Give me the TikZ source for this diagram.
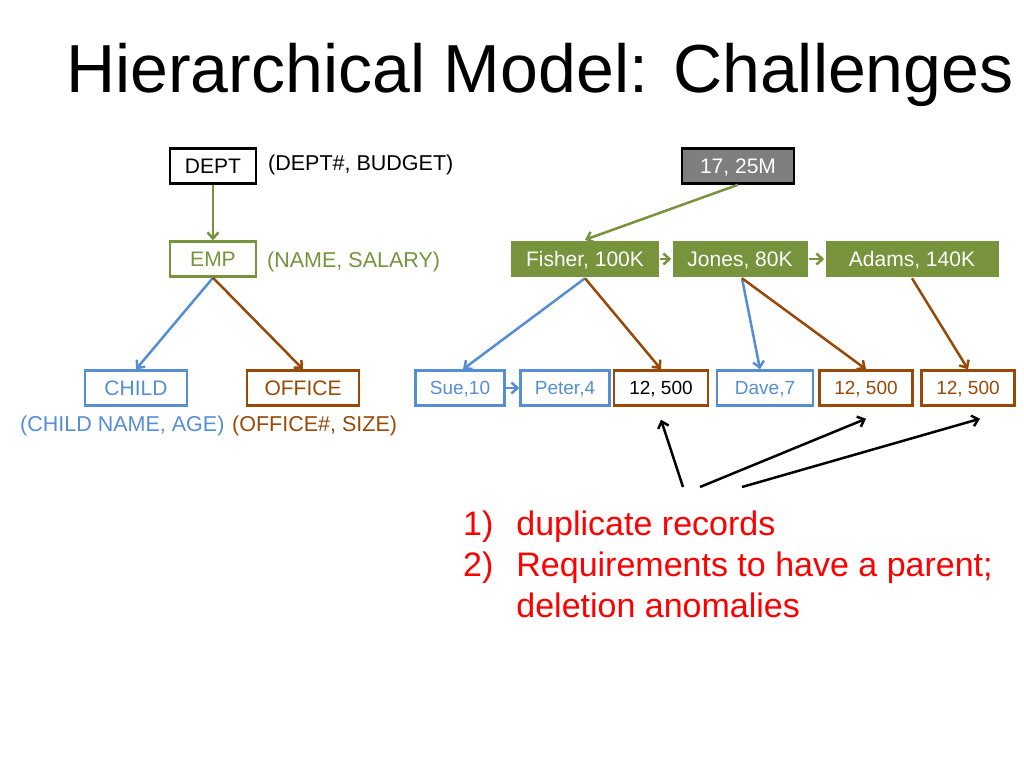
\documentclass[tikz,border=0pt]{standalone}
\usepackage{fontspec}
\setmainfont{Liberation Sans}
\usetikzlibrary{arrows.meta}
\definecolor{empgreen}{HTML}{77933C}
\definecolor{kidblue}{HTML}{558ED5}
\definecolor{offbrown}{HTML}{984807}
\definecolor{deptgray}{HTML}{7F7F7F}

\begin{document}
\begin{tikzpicture}[x=1pt,y=-1pt,
    rec/.style={draw, line width=2.5pt, inner sep=0pt, minimum height=35pt,
      text height=15pt, text depth=0pt, font=\fontsize{21}{25}\selectfont},
    small/.style={font=\fontsize{19}{23}\selectfont, text height=13.6pt, text depth=0pt},
    note/.style={anchor=west, inner sep=0pt, font=\fontsize{21.5}{25}\selectfont},
    link/.style={line width=2.5pt, -{Straight Barb[length=6pt,width=11pt]}}]
  \useasboundingbox (0,0) rectangle (1024,768);
  % Title
  \node [anchor=base west, inner sep=0pt, font=\fontsize{68}{80}\selectfont] (title) at (66,92) {Hierarchical Model: Challenges};
  % Schema
  \node [rec, black, minimum width=86pt] (dept) at (213,166) {DEPT};
  \node [note, black] (deptattr) at (268,165) {(DEPT\#, BUDGET)};
  \node [rec, empgreen, minimum width=86pt] (emp) at (213,259) {EMP};
  \node [note, empgreen] (empattr) at (267,262) {(NAME, SALARY)};
  \node [rec, kidblue, minimum width=102pt] (child) at (136,388) {CHILD};
  \node [rec, offbrown, minimum width=112pt] (office) at (303,388) {OFFICE};
  \node [note, kidblue] (childattr) at (20,426) {(CHILD NAME, AGE)};
  \node [note, offbrown] (officeattr) at (232,426) {(OFFICE\#, SIZE)};
  \draw [link, empgreen] (dept) -- (emp);
  \draw [link, kidblue] (emp.south) -- (child.north);
  \draw [link, offbrown] (emp.south) -- (office.north);
  % Instance
  \node [rec, draw=black, fill=deptgray, text=white, minimum width=112pt] (d17) at (738,166) {17, 25M};
  \node [rec, draw=none, fill=empgreen, text=white, minimum width=148pt, minimum height=36pt] (fisher) at (585,259) {Fisher, 100K};
  \node [rec, draw=none, fill=empgreen, text=white, minimum width=135pt, minimum height=36pt] (jones) at (740,259) {Jones, 80K};
  \node [rec, draw=none, fill=empgreen, text=white, minimum width=173pt, minimum height=36pt] (adams) at (912,259) {Adams, 140K};
  \node [rec, small, kidblue, minimum width=89pt] (sue) at (460,388) {Sue,10};
  \node [rec, small, kidblue, minimum width=89pt] (peter) at (565,388) {Peter,4};
  \node [rec, small, draw=offbrown, text=black, minimum width=94pt] (offa) at (661,388) {12, 500};
  \node [rec, small, kidblue, minimum width=96pt] (dave) at (765,388) {Dave,7};
  \node [rec, small, offbrown, minimum width=93pt] (offb) at (866,388) {12, 500};
  \node [rec, small, offbrown, minimum width=93pt] (offc) at (968,388) {12, 500};
  \draw [link, empgreen] (d17.south) -- (fisher.north);
  \draw [link, empgreen] (fisher) -- (jones);
  \draw [link, empgreen] (jones) -- (adams);
  \draw [link, kidblue] (fisher.south) -- ([xshift=3pt]sue.north);
  \draw [link, kidblue] (sue) -- (peter);
  \draw [link, offbrown] (fisher.south) -- (offa.north);
  \draw [link, kidblue] ([xshift=2pt]jones.south) -- ([xshift=-5pt]dave.north);
  \draw [link, offbrown] ([xshift=2pt]jones.south) -- (offb.north);
  \draw [link, offbrown] (adams.south) -- (offc.north);
  % Problems
  \coordinate (p1) at (683,487);
  \coordinate (p2) at (700,487);
  \coordinate (p3) at (742,487);
  \draw [link, black] (p1) -- ([yshift=-13pt]offa.south);
  \draw [link, black] (p2) -- ([yshift=-12pt]offb.south);
  \draw [link, black] (p3) -- ([xshift=12pt,yshift=-12pt]offc.south);
  \node [anchor=base west, inner sep=0pt, red, font=\fontsize{34}{41}\selectfont] (issues) at (463,535)
    {\begin{tabular}[t]{@{}l@{\hspace{23pt}}l@{}}
      1) & duplicate records\\
      2) & Requirements to have a parent;\\
         & deletion anomalies
    \end{tabular}};
\end{tikzpicture}
\end{document}
